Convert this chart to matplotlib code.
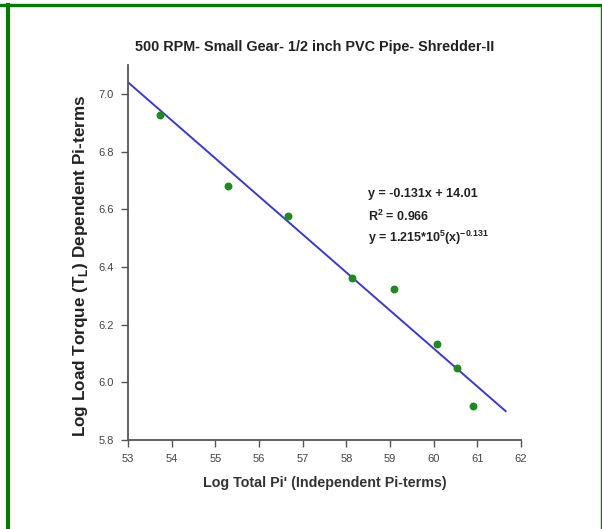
import numpy as np
import matplotlib.pyplot as plt
from matplotlib.lines import Line2D

plt.rcParams["font.family"] = ["Liberation Sans", "DejaVu Sans"]
plt.rcParams["mathtext.fontset"] = "custom"
plt.rcParams["mathtext.rm"] = "Liberation Sans"
plt.rcParams["mathtext.bf"] = "Liberation Sans:bold"

# ============================================================
# DATA
# ============================================================

log_pi = [53.73, 55.29, 56.66, 58.13, 59.09, 60.07, 60.53, 60.90]
log_torque = [6.927, 6.680, 6.576, 6.363, 6.325, 6.134, 6.050, 5.918]

# trend line endpoints as drawn
fit_x = [53.0, 61.65]
fit_y = [7.04, 5.90]

x_ticks = [53, 54, 55, 56, 57, 58, 59, 60, 61, 62]
y_ticks = [5.8, 6.0, 6.2, 6.4, 6.6, 6.8, 7.0]

eq_lines = [
    "y = -0.131x + 14.01",
    r"R$^\mathbf{2}$ = 0.966",
    r"y = 1.215*10$^\mathbf{5}$(x)$^\mathbf{-0.131}$",
]

# ============================================================
# FIGURE
# ============================================================

fig = plt.figure(figsize=(6.02, 5.29), dpi=100)
ax = fig.add_axes([0.2126, 0.1682, 0.6528, 0.709])

axis_col = "#555555"

ax.plot(fit_x, fit_y, color="#3a3ac8", linewidth=1.4, zorder=2)
ax.scatter(log_pi, log_torque, s=22, color="#1f8a1f", zorder=3)

ax.set_xlim(53, 62)
ax.set_ylim(5.8, 7.1)
ax.set_xticks(x_ticks)
ax.set_yticks(y_ticks)
ax.set_xticklabels([str(t) for t in x_ticks])
ax.set_yticklabels([f"{t:.1f}" for t in y_ticks])

for side in ["top", "right"]:
    ax.spines[side].set_visible(False)
for side in ["left", "bottom"]:
    ax.spines[side].set_color(axis_col)
    ax.spines[side].set_linewidth(1.3)

ax.tick_params(direction="out", length=5, width=1.0, color=axis_col,
               labelsize=8, labelcolor="#444444", pad=5)

ax.set_title("500 RPM- Small Gear- 1/2 inch PVC Pipe- Shredder-II",
             fontsize=10.4, fontweight="bold", color="#222222", pad=10, x=0.476)
ax.set_xlabel("Log Total Pi' (Independent Pi-terms)",
              fontsize=10.3, fontweight="bold", color="#333333", labelpad=9)
ax.set_ylabel(r"Log Load Torque (T$_\mathbf{L}$) Dependent Pi-terms",
              fontsize=12.3, fontweight="bold", color="#222222")
ax.yaxis.set_label_coords(-0.097, 0.464)

for i, line in enumerate(eq_lines):
    ax.text(0.61, 0.655 - i * 0.058, line, transform=ax.transAxes,
            fontsize=9, fontweight="bold", color="#222222",
            va="center", ha="left")

# green page frame
frame_col = "#007a00"
fig.add_artist(Line2D([0.0, 1.0], [1 - 4.5 / 529, 1 - 4.5 / 529],
                      transform=fig.transFigure, color=frame_col, linewidth=2.4))
fig.add_artist(Line2D([8 / 602, 8 / 602], [0.0, 1 - 4.5 / 529],
                      transform=fig.transFigure, color=frame_col, linewidth=3.0))
fig.add_artist(Line2D([601 / 602, 601 / 602], [0.0, 1 - 4.5 / 529],
                      transform=fig.transFigure, color=frame_col, linewidth=1.0))

fig.savefig("out.png", dpi=100)
